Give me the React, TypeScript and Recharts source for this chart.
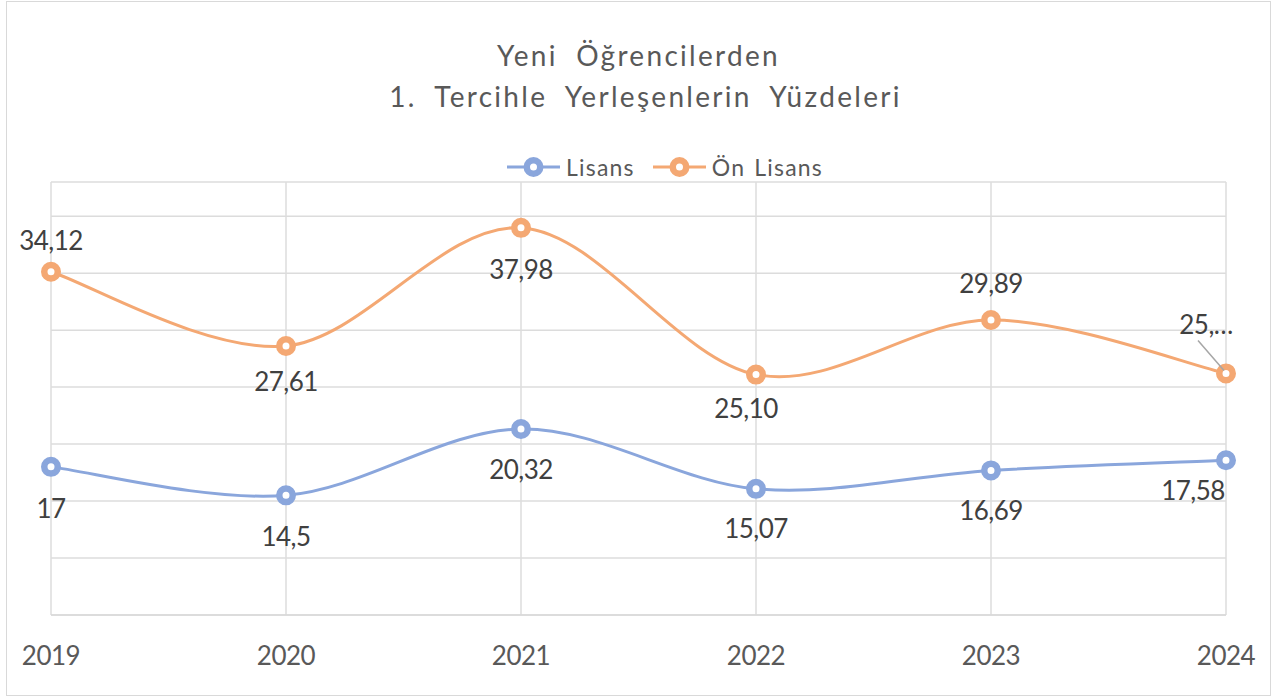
import React from "react";
import { LineChart, Line, XAxis, YAxis, CartesianGrid, Legend, LabelList } from "recharts";

const years = ["2019", "2020", "2021", "2022", "2023", "2024"];
const lisans = [17, 14.5, 20.32, 15.07, 16.69, 17.58];
const onLisans = [34.12, 27.61, 37.98, 25.1, 29.89, 25.2];
const lisansLabels = ["17", "14,5", "20,32", "15,07", "16,69", "17,58"];
const onLisansLabels = ["34,12", "27,61", "37,98", "25,10", "29,89", "25,…"];
const yTicks = [4, 9, 14, 19, 24, 29, 34, 39];

const data = years.map((y, i) => ({ year: y, lisans: lisans[i], onLisans: onLisans[i] }));

const BLUE = "#8AA6DC";
const ORANGE = "#F4A873";
const FONT = "Lato, 'Noto Sans', sans-serif";

// Excel-like smoothing (Catmull-Rom style bezier)
const excelCurve = (context: any) => {
  let pts: number[][] = [];
  return {
    areaStart() {},
    areaEnd() {},
    lineStart() {
      pts = [];
    },
    point(x: number, y: number) {
      pts.push([+x, +y]);
    },
    lineEnd() {
      if (!pts.length) return;
      context.moveTo(pts[0][0], pts[0][1]);
      for (let i = 0; i < pts.length - 1; i++) {
        const p0 = pts[i - 1] || pts[i];
        const p1 = pts[i];
        const p2 = pts[i + 1];
        const p3 = pts[i + 2] || pts[i + 1];
        context.bezierCurveTo(
          p1[0] + (p2[0] - p0[0]) / 6,
          p1[1] + (p2[1] - p0[1]) / 6,
          p2[0] - (p3[0] - p1[0]) / 6,
          p2[1] - (p3[1] - p1[1]) / 6,
          p2[0],
          p2[1]
        );
      }
    },
  };
};

// label placement per point: [dx, dy] of text centre from the marker
const lisansPlace = [[0, 41], [0, 41], [0, 40], [0, 39], [0, 40], [-33, 30]];
const onLisansPlace = [[0, -32], [0, 35], [0, 41], [-10, 33], [0, -37], [-20, -49]];

const makeLabel = (texts: string[], place: number[][], leader?: number) => (props: any) => {
  const { x, y, index } = props;
  const [dx, dy] = place[index];
  return (
    <g key={index}>
      {leader === index && (
        <line x1={x - 28} y1={y - 33} x2={x - 2} y2={y - 3} stroke="#a6a6a6" strokeWidth={1.5} />
      )}
      <text
        x={x + dx}
        y={y + dy}
        textAnchor="middle"
        dominantBaseline="central"
        fontFamily={FONT}
        fontSize={26}
        letterSpacing={-0.5}
        fill="#404040"
      >
        {texts[index]}
      </text>
    </g>
  );
};

const LegendIcon = ({ color }: { color: string }) => (
  <svg width={55} height={24}>
    <line x1={1} y1={12} x2={54} y2={12} stroke={color} strokeWidth={3} />
    <circle cx={27.5} cy={12} r={6.75} fill="#fff" stroke={color} strokeWidth={6.5} />
  </svg>
);

const renderLegend = () => (
  <div style={{ display: "flex", justifyContent: "center", alignItems: "center", gap: 17 }}>
    {[
      { name: "Lisans", color: BLUE },
      { name: "Ön Lisans", color: ORANGE },
    ].map((it) => (
      <div key={it.name} style={{ display: "flex", alignItems: "center", gap: 5 }}>
        <LegendIcon color={it.color} />
        <span
          style={{
            fontFamily: FONT,
            fontSize: 23,
            letterSpacing: 1.2,
            wordSpacing: 2,
            color: "#595959",
          }}
        >
          {it.name}
        </span>
      </div>
    ))}
  </div>
);

const XTick = (props: any) => {
  const { x, y, payload } = props;
  return (
    <text
      x={x}
      y={y + 50}
      textAnchor="middle"
      fontFamily={FONT}
      fontSize={26}
      letterSpacing={-0.5}
      fill="#595959"
    >
      {payload.value}
    </text>
  );
};

export default function App() {
  return (
    <div
      style={{
        position: "absolute",
        left: 6,
        top: 1,
        width: 1265,
        height: 695,
        border: "1px solid #d9d9d9",
        boxSizing: "border-box",
        background: "#fff",
      }}
    >
      <div
        style={{
          position: "absolute",
          left: 0,
          right: 0,
          top: 33,
          textAlign: "center",
          fontFamily: FONT,
          fontSize: 28,
          lineHeight: "41px",
          color: "#595959",
          letterSpacing: 2.3,
          wordSpacing: 9,
        }}
      >
        <div>Yeni Öğrencilerden</div>
        <div style={{ paddingLeft: 14 }}>1. Tercihle Yerleşenlerin Yüzdeleri</div>
      </div>
      <LineChart width={1263} height={693} data={data} margin={{ top: 180, right: 44, left: 44, bottom: 0 }}>
        <CartesianGrid stroke="#dcdcdc" strokeWidth={1.5} />
        <XAxis
          dataKey="year"
          height={80}
          tickSize={0}
          tickMargin={0}
          tickLine={false}
          axisLine={{ stroke: "#d9d9d9", strokeWidth: 1.5 }}
          tick={<XTick />}
          interval={0}
        />
        <YAxis hide domain={[4, 42]} ticks={yTicks} />
        <Legend
          verticalAlign="middle"
          align="center"
          content={renderLegend}
          wrapperStyle={{ top: 151, left: 26, width: 1263 }}
        />
        <Line
          type={excelCurve as any}
          dataKey="lisans"
          name="Lisans"
          stroke={BLUE}
          strokeWidth={3}
          dot={{ r: 6.75, strokeWidth: 6.5, fill: "#fff", stroke: BLUE }}
          isAnimationActive={false}
        >
          <LabelList dataKey="lisans" content={makeLabel(lisansLabels, lisansPlace)} />
        </Line>
        <Line
          type={excelCurve as any}
          dataKey="onLisans"
          name="Ön Lisans"
          stroke={ORANGE}
          strokeWidth={3}
          dot={{ r: 6.75, strokeWidth: 6.5, fill: "#fff", stroke: ORANGE }}
          isAnimationActive={false}
        >
          <LabelList dataKey="onLisans" content={makeLabel(onLisansLabels, onLisansPlace, 5)} />
        </Line>
      </LineChart>
    </div>
  );
}
